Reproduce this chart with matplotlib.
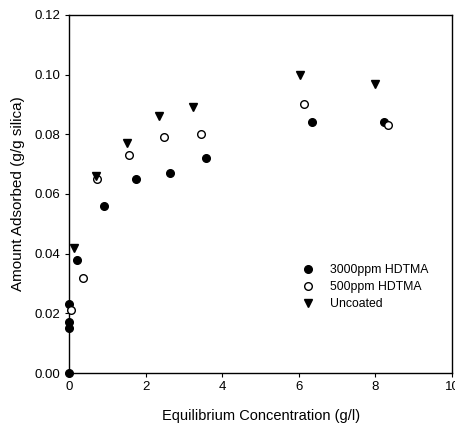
import matplotlib
matplotlib.use('Agg')
import matplotlib.pyplot as plt

plt.rcParams['font.family'] = ['Liberation Sans', 'DejaVu Sans']

# 3000ppm HDTMA coated (filled circles)
x_3000 = [0.0, 0.0, 0.0, 0.0, 0.2, 0.9, 1.75, 2.64, 3.57, 6.34, 8.23]
y_3000 = [0.0, 0.015, 0.017, 0.023, 0.038, 0.056, 0.065, 0.067, 0.072, 0.084, 0.084]

# 500ppm HDTMA coated (open circles)
x_500 = [0.05, 0.35, 0.73, 1.56, 2.48, 3.43, 6.13, 8.33]
y_500 = [0.021, 0.032, 0.065, 0.073, 0.079, 0.080, 0.090, 0.083]

# Uncoated (down triangles)
x_unc = [0.13, 0.69, 1.5, 2.35, 3.24, 6.02, 7.98]
y_unc = [0.042, 0.066, 0.077, 0.086, 0.089, 0.100, 0.097]

x_ticks = [0, 2, 4, 6, 8, 10]
y_ticks = [0.00, 0.02, 0.04, 0.06, 0.08, 0.10, 0.12]

fig = plt.figure(figsize=(4.56, 4.24), dpi=100)
ax = fig.add_axes([0.152, 0.120, 0.839, 0.845])

ax.plot(x_3000, y_3000, 'o', color='black', markersize=5.5, linestyle='none',
        label='3000ppm HDTMA', clip_on=False, zorder=5)
ax.plot(x_500, y_500, 'o', markerfacecolor='white', markeredgecolor='black',
        markeredgewidth=1.0, markersize=5.5, linestyle='none',
        label='500ppm HDTMA', clip_on=False, zorder=5)
ax.plot(x_unc, y_unc, 'v', color='black', markersize=5.5, linestyle='none',
        label='Uncoated', clip_on=False, zorder=5)

ax.set_xlim(0, 10)
ax.set_ylim(0, 0.12)
ax.set_xticks(x_ticks)
ax.set_yticks(y_ticks)
ax.set_xticklabels([str(t) for t in x_ticks])
ax.set_yticklabels([f'{t:.2f}' for t in y_ticks])
ax.tick_params(direction='out', length=3, width=0.8, labelsize=9.5, colors='black')
ax.tick_params(axis='x', pad=3)

for s in ax.spines.values():
    s.set_linewidth(1.0)

ax.set_xlabel('Equilibrium Concentration (g/l)', fontsize=10.5, labelpad=11)
ax.set_ylabel('Amount Adsorbed (g/g silica)', fontsize=11, labelpad=7)

ax.legend(loc='center left', bbox_to_anchor=(0.575, 0.24), frameon=False,
          fontsize=8.8, handletextpad=1.0, labelspacing=0.42, borderpad=0.2,
          handlelength=1.6)

plt.savefig('out.png', dpi=100)
